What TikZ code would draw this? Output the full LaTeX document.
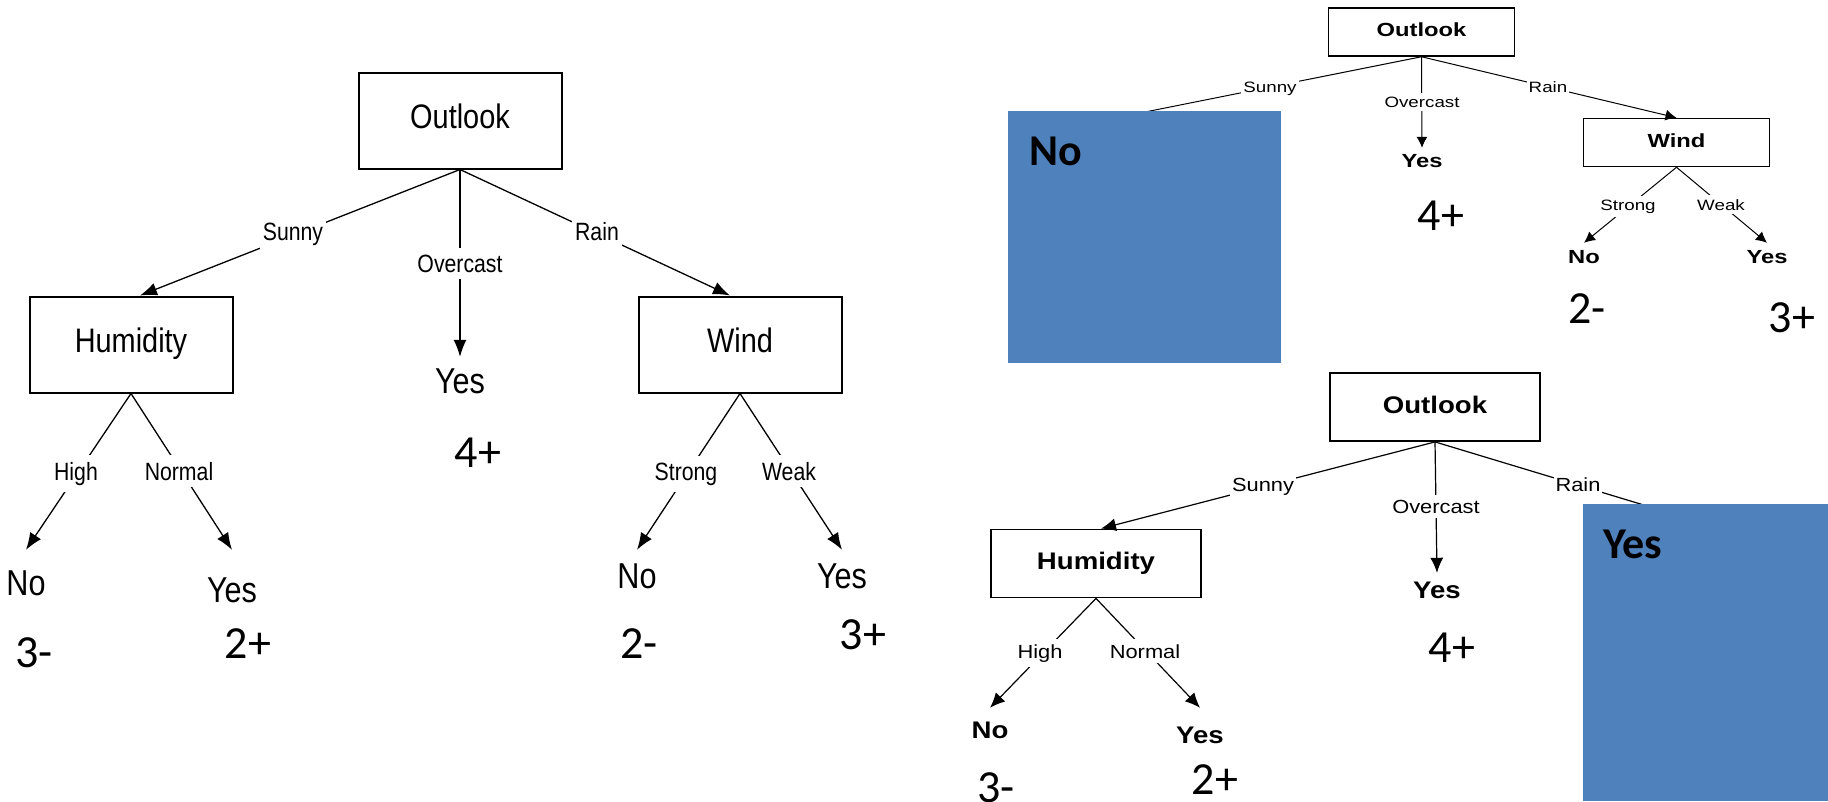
\documentclass[tikz,border=0pt]{standalone}
\usepackage{fontspec}
\usetikzlibrary{arrows.meta}
% Arial-metric families, condensed or widened as the three trees need
\newfontfamily\fnarrow[FakeStretch=0.85]{Liberation Sans}
\newfontfamily\fwideA[FakeStretch=1.25]{Liberation Sans}
\newfontfamily\fwideB[FakeStretch=1.15]{Liberation Sans}
\newfontfamily\fcount{Carlito}
\definecolor{officeblue}{HTML}{4F81BD}

\begin{document}
\begin{tikzpicture}[x=1pt,y=-1pt,
  every node/.style={inner sep=0pt},
  % --- large tree (left) ---
  lbox/.style={draw, line width=2pt, minimum width=203pt, minimum height=96pt,
    text height=25pt, text depth=9pt, font=\fnarrow\fontsize{34}{40}\selectfont},
  ledge/.style={line width=1.3pt, -{Latex[length=17pt,width=13pt]}},
  lline/.style={line width=1.3pt},
  llab/.style={anchor=base, fill=white, inner xsep=3pt, inner ysep=7pt,
    font=\fnarrow\fontsize{25}{30}\selectfont},
  lleaf/.style={anchor=base, font=\fnarrow\fontsize{36}{40}\selectfont},
  % --- small tree (top right) ---
  abox/.style={draw, line width=1.5pt, minimum width=186pt, minimum height=48pt,
    text height=14pt, text depth=5pt, font=\fwideA\bfseries\fontsize{19}{22}\selectfont},
  aedge/.style={line width=1pt, -{Latex[length=11pt,width=11pt]}},
  aline/.style={line width=1pt},
  alab/.style={anchor=base, fill=white, inner xsep=2pt, inner ysep=4pt,
    font=\fwideA\fontsize{15}{18}\selectfont},
  aleaf/.style={anchor=base, font=\fwideA\bfseries\fontsize{19}{22}\selectfont},
  % --- small tree (bottom right) ---
  bbox/.style={draw, line width=1.8pt, minimum width=210pt, minimum height=68pt,
    text height=18pt, text depth=6pt, font=\fwideB\bfseries\fontsize{24}{28}\selectfont},
  bedge/.style={line width=1.2pt, -{Latex[length=15pt,width=13pt]}},
  bline/.style={line width=1.2pt},
  blab/.style={anchor=base, fill=white, inner xsep=2pt, inner ysep=5pt,
    font=\fwideB\fontsize{19}{22}\selectfont},
  bleaf/.style={anchor=base, font=\fwideB\bfseries\fontsize{24}{28}\selectfont},
  % --- shared ---
  count/.style={anchor=base, font=\fcount\fontsize{46}{52}\selectfont},
  cover/.style={fill=officeblue, anchor=north west},
  covertext/.style={anchor=base west, font=\fcount\bfseries\fontsize{44}{50}\selectfont}
]
\useasboundingbox (0,0) rectangle (1828,801);

% ================= left: full tree =================
\node[lbox] (lout)  at (460,120.5) {Outlook};
\node[lbox] (lhum)  at (131,344.5) {Humidity};
\node[lbox] (lwind) at (740,344.5) {Wind};

\node[lleaf, text height=36pt] (lyes)  at (460,393) {Yes};
\node[lleaf, text height=45pt] (lno1)  at (26,595)  {No};
\node[lleaf, text height=52pt] (lyes1) at (232,602) {Yes};
\node[lleaf, text height=38pt] (lno2)  at (637,588) {No};
\node[lleaf, text height=38pt] (lyes2) at (842,588) {Yes};

\draw[ledge] (lout.south) -- ([xshift=9pt]lhum.north);
\draw[ledge] (lout.south) -- (lyes.north);
\draw[ledge] (lout.south) -- ([xshift=-10pt]lwind.north);
\draw[ledge] (lhum.south) -- (lno1.north);
\draw[ledge] (lhum.south) -- (lyes1.north);
\draw[ledge] (lwind.south) -- (lno2.north);
\draw[ledge] (lwind.south) -- (lyes2.north);

\node[llab] (lsunny)  at (293,240) {Sunny};
\node[llab] (lover)   at (460,272) {Overcast};
\node[llab] (lrain)   at (597,240) {Rain};
\node[llab] (lhigh)   at (76,480)  {High};
\node[llab] (lnormal) at (179,480) {Normal};
\node[llab] (lstrong) at (686,480) {Strong};
\node[llab] (lweak)   at (789,480) {Weak};

\node[count] (lc1) at (34,667)  {3-};
\node[count] (lc2) at (248,658) {2+};
\node[count] (lc3) at (478,467) {4+};
\node[count] (lc4) at (639,658) {2-};
\node[count] (lc5) at (863,649) {3+};

% ================= top right: Sunny branch covered =================
\node[abox] (aout)  at (1421.5,32)    {Outlook};
\node[abox] (awind) at (1676.5,142.5) {Wind};
\coordinate (asunend) at (1100,121);

\node[aleaf, text height=19pt] (ayes)  at (1422,167) {Yes};
\node[aleaf, text height=20pt] (ano1)  at (1584,263) {No};
\node[aleaf, text height=20pt] (ayes1) at (1767,263) {Yes};

\draw[aline] (aout.south) -- (asunend);
\draw[aedge] (aout.south) -- (ayes.north);
\draw[aedge] (aout.south) -- (awind.north);
\draw[aedge] (awind.south) -- (ano1.north);
\draw[aedge] (awind.south) -- (ayes1.north);

\node[alab] (asunny)  at (1270,92)  {Sunny};
\node[alab] (aover)   at (1422,107) {Overcast};
\node[alab] (arain)   at (1548,92)  {Rain};
\node[alab] (astrong) at (1628,210) {Strong};
\node[alab] (aweak)   at (1721,210) {Weak};

\node[count] (ac1) at (1441,230) {4+};
\node[count] (ac2) at (1587,323) {2-};
\node[count] (ac3) at (1792,332) {3+};

\node[cover, minimum width=273pt, minimum height=252pt] (acover) at (1008,111) {};
\node[covertext] (acovertext) at (1029,165) {No};

% ================= bottom right: Rain branch covered =================
\node[bbox] (bout) at (1435,407)   {Outlook};
\node[bbox] (bhum) at (1096,563.5) {Humidity};
\coordinate (braend) at (1700,522);

\node[bleaf, text height=25pt] (byes)  at (1437,598) {Yes};
\node[bleaf, text height=30pt] (bno1)  at (990,738)  {No};
\node[bleaf, text height=35pt] (byes1) at (1200,743) {Yes};

\draw[bedge] (bout.south) -- ([xshift=5pt]bhum.north);
\draw[bedge] (bout.south) -- (byes.north);
\draw[bline] (bout.south) -- (braend);
\draw[bedge] (bhum.south) -- (bno1.north);
\draw[bedge] (bhum.south) -- (byes1.north);

\node[blab] (bsunny)  at (1263,491) {Sunny};
\node[blab] (bover)   at (1436,513) {Overcast};
\node[blab] (brain)   at (1578,491) {Rain};
\node[blab] (bhigh)   at (1040,658) {High};
\node[blab] (bnormal) at (1145,658) {Normal};

\node[count] (bc1) at (996,802)  {3-};
\node[count] (bc2) at (1215,794) {2+};
\node[count] (bc3) at (1452,662) {4+};

\node[cover, minimum width=245pt, minimum height=297pt] (bcover) at (1583,504) {};
\node[covertext] (bcovertext) at (1603,558) {Yes};
\end{tikzpicture}
\end{document}
